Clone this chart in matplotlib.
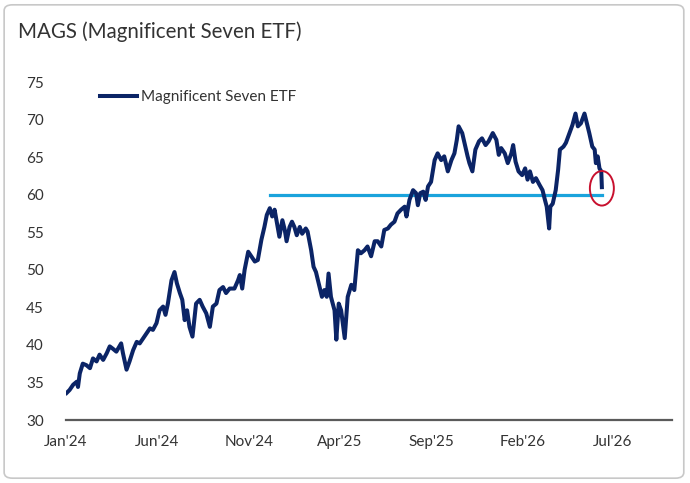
import matplotlib
matplotlib.use("Agg")
import matplotlib.pyplot as plt
import matplotlib.dates as mdates
from matplotlib.patches import Ellipse, FancyBboxPatch
import pandas as pd

# MAGS price
dates = [
    "2024-01-02", "2024-01-07", "2024-01-13", "2024-01-19", "2024-01-21", "2024-01-24",
    "2024-01-29", "2024-02-04", "2024-02-10", "2024-02-15", "2024-02-21", "2024-02-26",
    "2024-03-03", "2024-03-09", "2024-03-14", "2024-03-19", "2024-03-25", "2024-04-02",
    "2024-04-05", "2024-04-11", "2024-04-16", "2024-04-22", "2024-04-28", "2024-05-03",
    "2024-05-09", "2024-05-14", "2024-05-20", "2024-05-25", "2024-05-31", "2024-06-05",
    "2024-06-11", "2024-06-15", "2024-06-19", "2024-06-25", "2024-06-30", "2024-07-04",
    "2024-07-09", "2024-07-13", "2024-07-17", "2024-07-21", "2024-07-25", "2024-07-30",
    "2024-08-05", "2024-08-11", "2024-08-16", "2024-08-22", "2024-08-28", "2024-09-02",
    "2024-09-08", "2024-09-13", "2024-09-19", "2024-09-24", "2024-09-30", "2024-10-08",
    "2024-10-14", "2024-10-17", "2024-10-21", "2024-10-25", "2024-10-31", "2024-11-05",
    "2024-11-11", "2024-11-16", "2024-11-22", "2024-11-27", "2024-12-01", "2024-12-06",
    "2024-12-10", "2024-12-14", "2024-12-18", "2024-12-22", "2024-12-27", "2024-12-31",
    "2025-01-03", "2025-01-08", "2025-01-12", "2025-01-16", "2025-01-20", "2025-01-25",
    "2025-01-29", "2025-02-04", "2025-02-07", "2025-02-13", "2025-02-17", "2025-02-21",
    "2025-02-27", "2025-03-03", "2025-03-07", "2025-03-11", "2025-03-14", "2025-03-18",
    "2025-03-24", "2025-03-27", "2025-03-31", "2025-04-04", "2025-04-10", "2025-04-15",
    "2025-04-21", "2025-04-26", "2025-05-02", "2025-05-07", "2025-05-13", "2025-05-18",
    "2025-05-24", "2025-05-30", "2025-06-04", "2025-06-10", "2025-06-15", "2025-06-21",
    "2025-06-26", "2025-07-02", "2025-07-07", "2025-07-13", "2025-07-19", "2025-07-22",
    "2025-07-27", "2025-08-02", "2025-08-07", "2025-08-10", "2025-08-14", "2025-08-19",
    "2025-08-23", "2025-08-27", "2025-09-01", "2025-09-07", "2025-09-12", "2025-09-18",
    "2025-09-23", "2025-09-29", "2025-10-05", "2025-10-10", "2025-10-14", "2025-10-17",
    "2025-10-23", "2025-10-28", "2025-11-01", "2025-11-04", "2025-11-09", "2025-11-14",
    "2025-11-20", "2025-11-25", "2025-12-01", "2025-12-06", "2025-12-13", "2025-12-19",
    "2025-12-23", "2025-12-27", "2026-01-02", "2026-01-07", "2026-01-13", "2026-01-16",
    "2026-01-20", "2026-01-25", "2026-01-31", "2026-02-05", "2026-02-09", "2026-02-13",
    "2026-02-18", "2026-02-23", "2026-03-01", "2026-03-06", "2026-03-10", "2026-03-13",
    "2026-03-17", "2026-03-19", "2026-03-23", "2026-03-28", "2026-04-01", "2026-04-04",
    "2026-04-10", "2026-04-14", "2026-04-20", "2026-04-25", "2026-04-30", "2026-05-04",
    "2026-05-09", "2026-05-15", "2026-05-19", "2026-05-23", "2026-05-28", "2026-06-01",
    "2026-06-03", "2026-06-06", "2026-06-09", "2026-06-12", "2026-06-13",
]
prices = [
    33.6, 34.0, 34.7, 35.1, 34.4, 36.2,
    37.5, 37.3, 36.9, 38.2, 37.8, 38.7,
    38.0, 38.9, 39.8, 39.5, 39.1, 40.2,
    38.9, 36.7, 37.8, 39.3, 40.4, 40.2,
    40.9, 41.5, 42.2, 42.0, 42.9, 44.6,
    45.1, 44.0, 45.5, 48.6, 49.7, 48.2,
    46.9, 46.0, 43.3, 44.6, 42.4, 41.1,
    45.5, 46.0, 45.1, 44.2, 42.4, 45.1,
    45.5, 47.3, 47.7, 46.9, 47.5, 47.5,
    48.6, 49.3, 47.5, 50.0, 52.4, 51.8,
    51.1, 51.3, 54.0, 55.7, 57.3, 58.2,
    57.1, 58.0, 56.2, 54.4, 56.6, 55.3,
    53.8, 55.7, 56.4, 55.7, 54.6, 55.7,
    54.8, 55.5, 55.1, 52.6, 50.4, 49.7,
    47.7, 46.4, 47.3, 46.4, 49.5, 46.4,
    44.6, 40.7, 45.5, 44.6, 40.9, 46.4,
    48.0, 47.3, 52.6, 52.2, 52.6, 53.1,
    51.8, 53.8, 53.8, 53.1, 55.3, 55.5,
    56.0, 56.4, 57.5, 58.0, 58.4, 57.1,
    59.3, 60.6, 60.2, 58.6, 60.2, 60.4,
    59.3, 61.1, 61.7, 64.6, 65.5, 64.6,
    65.1, 63.1, 64.6, 65.5, 67.3, 69.1,
    68.2, 66.5, 65.1, 64.2, 63.1, 66.0,
    67.1, 67.5, 66.6, 67.1, 68.2, 67.3,
    65.3, 66.2, 65.5, 64.2, 65.5, 66.6,
    64.4, 63.1, 62.6, 63.5, 62.0, 63.1,
    61.7, 62.2, 61.3, 60.6, 59.3, 58.4,
    55.5, 58.4, 58.8, 60.6, 63.3, 66.0,
    66.4, 66.9, 68.2, 69.3, 70.8, 69.1,
    69.5, 70.8, 69.5, 68.2, 66.4, 66.0,
    64.2, 65.1, 63.5, 63.1, 61.0,
]

support_level = 60
support_start, support_end = "2024-12-06", "2026-06-14"
circle_center = ("2026-06-13", 60.85)

tick_dates = ["2024-01-01", "2024-06-01", "2024-11-01", "2025-04-01",
              "2025-09-01", "2026-02-01", "2026-07-01"]
tick_labels = ["Jan'24", "Jun'24", "Nov'24", "Apr'25", "Sep'25", "Feb'26", "Jul'26"]
y_ticks = [30, 35, 40, 45, 50, 55, 60, 65, 70, 75]

navy = "#0b2466"
light_blue = "#1aa3dc"
text_col = "#333333"

fig = plt.figure(figsize=(6.9, 4.83), dpi=100)

# card frame
frame = FancyBboxPatch((0.006, 0.01), 0.985, 0.98, boxstyle="round,pad=0,rounding_size=0.012",
                       transform=fig.transFigure, facecolor="none", edgecolor="#c8c8c8",
                       linewidth=1.2, zorder=0)
fig.patches.append(frame)

fig.text(18 / 690, 1 - 32 / 483, "MAGS (Magnificent Seven ETF)", fontsize=14.8,
         family="Lato", color=text_col, va="center", ha="left")

ax = fig.add_axes([66 / 690, 63 / 483, 606 / 690, 338 / 483])
ax.set_facecolor("none")

x = pd.to_datetime(dates)
ax.plot(x, prices, color=navy, linewidth=2.9, solid_joinstyle="round",
        label="Magnificent Seven ETF", zorder=3)
ax.plot(pd.to_datetime([support_start, support_end]), [support_level, support_level],
        color=light_blue, linewidth=2.3, zorder=2)

cx = mdates.date2num(pd.Timestamp(circle_center[0]))
ax.add_patch(Ellipse((cx, circle_center[1]), width=40, height=4.6, fill=False,
                     edgecolor="#c8102e", linewidth=1.4, zorder=4))

ax.set_xlim(pd.Timestamp("2024-01-01"), pd.Timestamp("2026-10-08"))
ax.set_ylim(30, 75)
ax.set_xticks(pd.to_datetime(tick_dates))
ax.set_xticklabels(tick_labels)
ax.set_yticks(y_ticks)

for s in ["top", "right", "left"]:
    ax.spines[s].set_visible(False)
ax.spines["bottom"].set_color("#5a5a5a")
ax.spines["bottom"].set_linewidth(1.6)
ax.tick_params(axis="both", length=0, labelsize=11, labelcolor=text_col)
ax.tick_params(axis="y", pad=16)
ax.tick_params(axis="x", pad=11)
for lab in ax.get_xticklabels() + ax.get_yticklabels():
    lab.set_family("Lato")

leg = ax.legend(loc="center left", bbox_to_anchor=(100 / 690, 1 - 97 / 483),
                bbox_transform=fig.transFigure, frameon=False, handlelength=2.4,
                handletextpad=0.26, borderpad=0, borderaxespad=0,
                prop={"family": "Lato", "size": 11})
for t in leg.get_texts():
    t.set_color(text_col)

fig.savefig("out.png", dpi=100)
